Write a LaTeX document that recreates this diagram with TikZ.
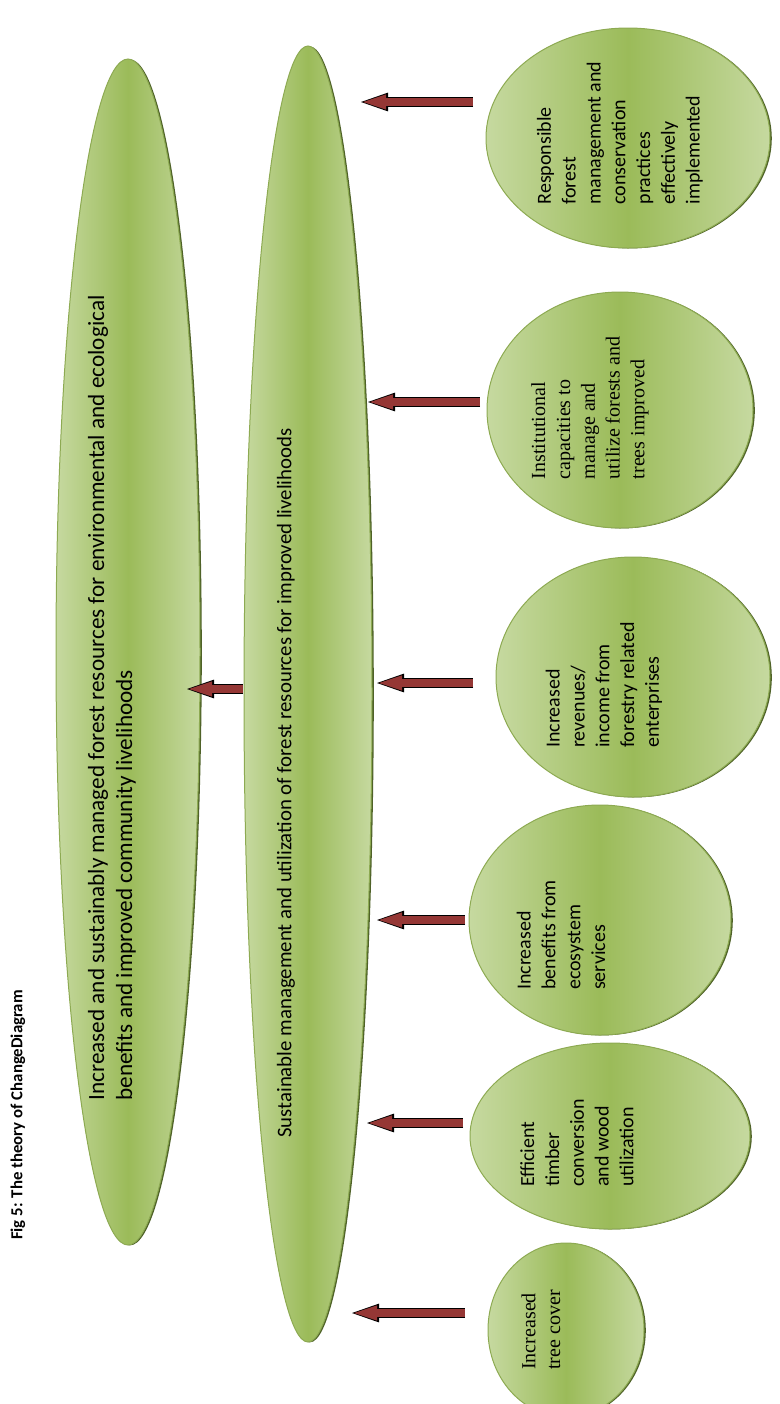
\documentclass[tikz,border=0pt]{standalone}
\usepackage{fontspec}
\setmainfont{Carlito}
\newfontfamily\serifpart{Liberation Serif}
\usetikzlibrary{shapes.geometric,arrows.meta,shadows}
\definecolor{palegreen}{HTML}{C6D9A0}
\definecolor{leafgreen}{HTML}{9BBB59}
\definecolor{edgegreen}{HTML}{8DAA52}
\definecolor{shadowgreen}{HTML}{4F6228}
\definecolor{arrowred}{HTML}{953735}
\tikzset{
  blob/.style={ellipse, draw=edgegreen, line width=0.5pt, inner sep=0pt,
    left color=palegreen, right color=palegreen, middle color=leafgreen,
    general shadow={fill=shadowgreen, shadow xshift=0.9pt, shadow yshift=-0.2pt}},
  lbl/.style={rotate=90, align=left, inner sep=0pt, font=\fontsize{10pt}{12.4pt}\selectfont},
  flowarrow/.style={arrowred, line width=4.2pt, shorten >=1pt,
    -{Triangle[length=11.5pt,width=7.6pt,line width=0pt]},
    preaction={draw=black, line width=5.4pt, shorten >=0pt,
      -{Triangle[length=13.5pt,width=9.4pt,line width=0pt]}}}
}
\begin{document}
\begin{tikzpicture}[x=0.5pt,y=-0.5pt]
\useasboundingbox (0,0) rectangle (780,1404);
\node[rotate=90, inner sep=0pt, font=\fontsize{8.4pt}{9pt}\selectfont\bfseries] (title) at (18,1115) {Fig 5: The theory of ChangeDiagram};

\node[blob, minimum width=72pt, minimum height=593pt] (goal) at (128,652) {};
\node[blob, minimum width=64pt, minimum height=648pt] (outcome) at (308,694) {};
\node[blob, minimum width=142pt, minimum height=110pt] (resp) at (628,138) {};
\node[blob, minimum width=133pt, minimum height=118pt] (inst) at (620,410) {};
\node[blob, minimum width=137pt, minimum height=120pt] (rev) at (633,677) {};
\node[blob, minimum width=131pt, minimum height=115pt] (eco) at (600,920) {};
\node[blob, minimum width=140pt, minimum height=93pt] (timber) at (610,1136) {};
\node[blob, minimum width=78pt, minimum height=87pt] (tree) at (566,1330) {};

\node[lbl, font=\fontsize{11.6pt}{14pt}\selectfont] (goal-t) at (112,698) {Increased and sustainably managed forest resources for environmental and ecological\\benefits and improved community livelihoods};
\node[lbl, font=\fontsize{10.4pt}{12.4pt}\selectfont] (outcome-t) at (286,783) {Sustainable management and utilization of forest resources for improved livelihoods};
\node[lbl] (resp-t) at (620,133) {Responsible\\forest\\management and\\conservation\\practices\\effectively\\implemented};
\node[lbl, font=\fontsize{10pt}{12.4pt}\serifpart] (inst-t) at (590,408) {Institutional\\capacities to\\manage and\\utilize forests and\\trees improved};
\node[lbl] (rev-t) at (604,685) {Increased\\revenues/\\income from\\forestry related\\enterprises};
\node[lbl] (eco-t) at (561,935) {Increased\\benefits from\\ecosystem\\services};
\node[lbl] (timber-t) at (577,1143) {Efficient\\timber\\conversion\\and wood\\utilization};
\node[lbl, font=\fontsize{10pt}{12.4pt}\serifpart] (tree-t) at (541,1330) {Increased\\tree cover};

\coordinate (resp-s) at (473,102);   \coordinate (resp-e) at (361,102);
\coordinate (inst-s) at (480,402);   \coordinate (inst-e) at (368,402);
\coordinate (rev-s) at (473,683);    \coordinate (rev-e) at (377,683);
\coordinate (eco-s) at (465,920);    \coordinate (eco-e) at (377,920);
\coordinate (timber-s) at (463,1123); \coordinate (timber-e) at (367,1123);
\coordinate (tree-s) at (465,1313);  \coordinate (tree-e) at (352,1313);
\coordinate (outcome-s) at (243,689); \coordinate (outcome-e) at (187,689);

\draw[flowarrow] (resp-s) -- (resp-e);
\draw[flowarrow] (inst-s) -- (inst-e);
\draw[flowarrow] (rev-s) -- (rev-e);
\draw[flowarrow] (eco-s) -- (eco-e);
\draw[flowarrow] (timber-s) -- (timber-e);
\draw[flowarrow] (tree-s) -- (tree-e);
\draw[flowarrow] (outcome-s) -- (outcome-e);
\end{tikzpicture}
\end{document}
